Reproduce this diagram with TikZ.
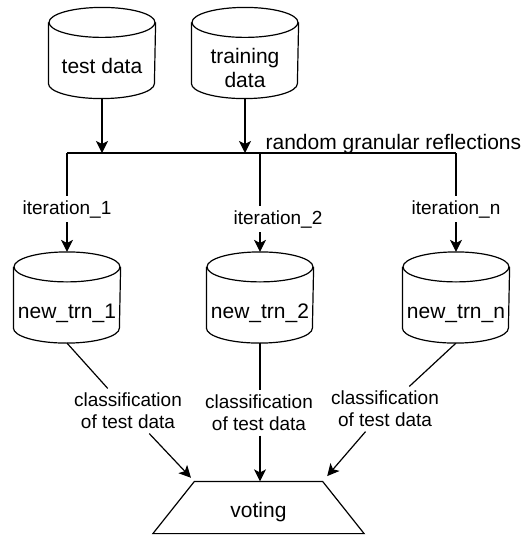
\documentclass[tikz,border=0pt]{standalone}
\usepackage{fontspec}
\setmainfont{Liberation Sans}
\usetikzlibrary{arrows.meta}
\begin{document}
\begin{tikzpicture}[x=1pt,y=-1pt,
  line width=1.2pt,
  dbbox/.style={minimum width=106pt,minimum height=90pt,inner sep=0pt,draw=none},
  big/.style={font=\fontsize{21}{24}\selectfont, inner sep=0pt, align=center},
  lbl/.style={font=\fontsize{19}{22}\selectfont, align=center, inner sep=4pt},
  arr/.style={-{Stealth[length=12pt,width=12pt,inset=3pt]}},
  votebox/.style={minimum width=127pt,minimum height=51pt,inner sep=0pt,draw=none}
]
\useasboundingbox (0,0) rectangle (527,535);

% cylinders (boxes)
\node[dbbox] (test)  at (102,53) {};
\node[dbbox] (train) at (245,53) {};
\node[dbbox] (n1) at (67,297.5) {};
\node[dbbox] (n2) at (260,297.5) {};
\node[dbbox] (nn) at (456,297.5) {};

\foreach \n in {test,train,n1,n2,nn}{
  \draw ([yshift=-15pt]\n.north) ellipse [x radius=53pt, y radius=15pt];
  \draw ([yshift=-15pt]\n.north west) -- ([yshift=15pt]\n.south west)
        arc [start angle=180, end angle=360, x radius=53pt, y radius=15pt]
        -- ([yshift=-15pt]\n.north east);
}

% cylinder texts
\node[big,anchor=base] (testtxt) at (102,74) {test data};
\node[big] (traintxt) at (245,67.5) {training\\data};
\node[big,anchor=base] (n1txt) at (67,318) {new\_trn\_1};
\node[big,anchor=base] (n2txt) at (260,318) {new\_trn\_2};
\node[big,anchor=base] (nntxt) at (456,318) {new\_trn\_n};

% bus
\coordinate (bl) at (67,153);
\coordinate (bm) at (260,153);
\coordinate (br) at (456,153);
\draw (bl) -- (br);
\node[big,anchor=base west] (rgr) at (265,149) {random granular reflections};

\draw[arr] (test.south) -- (test.south |- bl);
\draw[arr] (train.south) -- (train.south |- bl);

% iteration labels
\node[lbl,anchor=base] (it1) at (67,214) {iteration\_1};
\node[lbl,anchor=base] (it2) at (278,224) {iteration\_2};
\node[lbl,anchor=base] (itn) at (456,214) {iteration\_n};

\draw (bl) -- (it1);
\draw[arr] (it1) -- (n1);
\draw (bm) -- (bm |- it2.north);
\draw[arr] (bm |- it2.south) -- (n2);
\draw (br) -- (itn);
\draw[arr] (itn) -- (nn);

% voting
\node[votebox] (vote) at (258.5,507.5) {};
\draw (vote.north west) -- (vote.north east) -- ([xshift=41.5pt]vote.south east)
      -- ([xshift=-41.5pt]vote.south west) -- cycle;
\node[big,anchor=base] (votetxt) at (258.5,517) {voting};

% classification labels
\node[lbl] (c1) at (128,411) {classification\\of test data};
\node[lbl] (c2) at (259,413) {classification\\of test data};
\node[lbl] (c3) at (385,409) {classification\\of test data};

\draw (n1.south) -- (c1);
\draw[arr,shorten >=5pt] (c1) -- (vote.north west);
\draw (n2.south) -- (n2.south |- c2.north);
\draw[arr] (n2.south |- c2.south) -- (n2.south |- vote.north);
\draw (nn.south) -- (c3);
\draw[arr,shorten >=7pt] (c3) -- (vote.north east);
\end{tikzpicture}
\end{document}
